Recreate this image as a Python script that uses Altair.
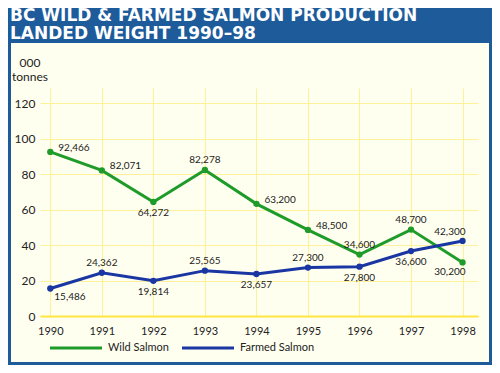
import altair as alt
import pandas as pd

years = [1990, 1991, 1992, 1993, 1994, 1995, 1996, 1997, 1998]
wild = [92466, 82071, 64272, 82278, 63200, 48500, 34600, 48700, 30200]
farmed = [15486, 24362, 19814, 25565, 23657, 27300, 27800, 36600, 42300]
wild_pos = ["right", "right", "below", "above", "right", "right", "above", "above", "belowleft"]
farmed_pos = ["belowright", "above", "below", "above", "below", "above", "below", "below", "aboveleft"]
series = ["Wild Salmon", "Farmed Salmon"]
colors = ["#1f9b2a", "#1a36a3"]
title_lines = ["BC WILD & FARMED SALMON PRODUCTION", "LANDED WEIGHT 1990\u201398"]
y_title = ["000", "tonnes"]
y_ticks = [0, 20, 40, 60, 80, 100, 120]

rows = []
for name, vals, poss in [(series[0], wild, wild_pos), (series[1], farmed, farmed_pos)]:
    for yr, v, p in zip(years, vals, poss):
        rows.append({"year": yr, "value": v / 1000.0, "label": f"{v:,}", "series": name, "pos": p})
df = pd.DataFrame(rows)

W, H = 438, 228
FONT = "Lato"
TXT = "#222222"
GRID = "#fff09a"

xs = alt.X("year:Q", scale=alt.Scale(domain=[1989.8, 1998.3], nice=False, zero=False),
           axis=alt.Axis(values=years, format="d", title=None, grid=True, gridColor=GRID,
                         gridWidth=1, domainColor="#ffe640", domainWidth=2, ticks=False,
                         labelPadding=9, labelFontSize=11, labelColor=TXT, labelFont=FONT,
                         labelOverlap=False))
ys = alt.Y("value:Q", scale=alt.Scale(domain=[0, 128.5], nice=False),
           axis=alt.Axis(values=y_ticks, title=None, grid=True, gridColor=GRID, gridWidth=1,
                         domain=False, ticks=False, labelPadding=5, labelFontSize=12,
                         labelColor=TXT, labelFont=FONT, labelOverlap=False))
cscale = alt.Scale(domain=series, range=colors)
col = alt.Color("series:N", scale=cscale, legend=None)

base = alt.Chart(df)
one = pd.DataFrame({"k": [0]})

band = alt.Chart(one).mark_rect(color="#1e5b9a").encode(
    x=alt.value(-32), x2=alt.value(452), y=alt.value(-80), y2=alt.value(-45))
border = alt.Chart(one).mark_rect(fill=None, stroke="#1e5b9a", strokeWidth=6).encode(
    x=alt.value(-32), x2=alt.value(452), y=alt.value(-80), y2=alt.value(277))

deco = []
for i, t in enumerate(title_lines):
    deco.append(
        alt.Chart(pd.DataFrame({"t": [t]})).mark_text(
            align="left", baseline="alphabetic", font="DejaVu Sans", fontWeight="bold",
            fontSize=17, color="white").encode(
            x=alt.value(-30), y=alt.value(-67 + 18 * i), text="t:N"))
for i, t in enumerate(y_title):
    deco.append(
        alt.Chart(pd.DataFrame({"t": [t]})).mark_text(
            align="center", baseline="alphabetic", font=FONT, fontSize=12,
            color=TXT).encode(
            x=alt.value(-10), y=alt.value(-21 + 14 * i), text="t:N"))

# legend (drawn manually beneath the axis)
legend_layers = []
leg_start = [10, 142]
for i, name in enumerate(series):
    ldf = pd.DataFrame({"series": [name]})
    legend_layers.append(
        alt.Chart(ldf).mark_rule(strokeWidth=3).encode(
            x=alt.value(leg_start[i]), x2=alt.value(leg_start[i] + 52), y=alt.value(260),
            color=col))
    legend_layers.append(
        alt.Chart(ldf).mark_text(align="left", baseline="middle", font=FONT, fontSize=11,
                                 color=TXT).encode(
            x=alt.value(leg_start[i] + 58), y=alt.value(260), text="series:N"))

lines = base.mark_line(strokeWidth=3).encode(x=xs, y=ys, color=col, detail="series:N")
points = base.mark_circle(size=40, opacity=1).encode(x=xs, y=ys, color=col)

placements = {
    "right": dict(align="left", dx=8, dy=-4),
    "above": dict(align="center", dx=0, dy=-10),
    "below": dict(align="center", dx=0, dy=11),
    "belowleft": dict(align="right", dx=3, dy=10),
    "aboveleft": dict(align="right", dx=3, dy=-9),
    "belowright": dict(align="left", dx=4, dy=8),
}
label_layers = []
for p, opts in placements.items():
    label_layers.append(
        base.transform_filter(alt.datum.pos == p).mark_text(
            baseline="middle", fontSize=10, font=FONT, color=TXT, **opts).encode(
            x=xs, y=ys, text="label:N"))

chart = alt.layer(band, border, *deco, lines, points, *label_layers, *legend_layers).properties(
    width=W, height=H,
    autosize=alt.AutoSizeParams(type="none"),
    padding={"left": 32, "top": 80, "right": 14, "bottom": 49},
    background="#fffff0",
).configure_view(stroke=None)

chart.save("out.html", embed_options={"renderer": "svg", "actions": False})
